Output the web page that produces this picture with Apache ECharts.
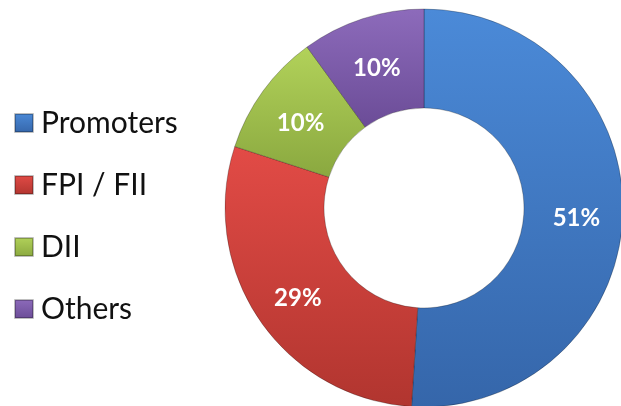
<!DOCTYPE html>
<html>
<head>
<meta charset="utf-8">
<script src="https://cdn.jsdelivr.net/npm/echarts@6/dist/echarts.min.js"></script>
<style>
  html, body { margin: 0; padding: 0; background: #fff; }
  #chart { width: 621px; height: 406px; }
</style>
</head>
<body>
<div id="chart"></div>
<script>
// shareholding categories and their shares (%)
const categories = ['Promoters', 'FPI / FII', 'DII', 'Others'];
const shares = [51, 29, 10, 10];
const topColors = ['#4b8ad8', '#e24b46', '#b2d25a', '#8d6bbb'];
const bottomColors = ['#3566aa', '#b1352f', '#8aa83f', '#6b4c97'];

let myChart = echarts.init(document.getElementById('chart'));

let seriesData = categories.map(function (name, i) {
  return {
    name: name,
    value: shares[i],
    itemStyle: {
      color: new echarts.graphic.LinearGradient(0, 0, 0, 1, [
        { offset: 0, color: topColors[i] },
        { offset: 1, color: bottomColors[i] }
      ])
    }
  };
});

let option = {
  animation: false,
  color: topColors,
  legend: {
    orient: 'vertical',
    left: 9,
    top: 103,
    itemWidth: 18,
    itemHeight: 18,
    itemGap: 32,
    icon: 'rect',
    textStyle: {
      fontFamily: 'Lato',
      fontSize: 30,
      lineHeight: 30,
      padding: [0, 0, 0, 3],
      color: '#111'
    },
    data: categories
  },
  series: [
    {
      name: 'Shareholding',
      type: 'pie',
      center: [424, 208],
      radius: [100, 199],
      startAngle: 90,
      clockwise: true,
      itemStyle: {
        borderColor: 'rgba(0,0,0,0.25)',
        borderWidth: 1
      },
      label: {
        show: true,
        position: 'inside',
        formatter: '{d}%',
        color: '#fff',
        fontFamily: 'Lato',
        fontWeight: 'bold',
        fontSize: 24,
        offset: [0, 5]
      },
      labelLine: { show: false },
      emphasis: { disabled: true },
      data: seriesData
    }
  ]
};

myChart.setOption(option);
</script>
</body>
</html>
